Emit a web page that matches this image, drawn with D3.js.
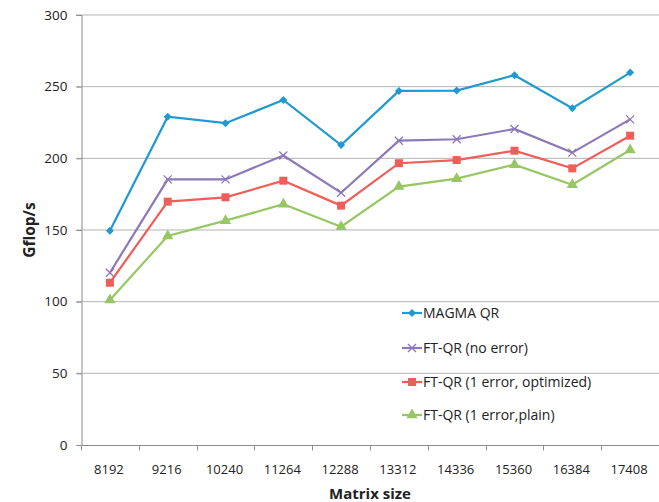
<!DOCTYPE html>
<html>
<head>
<meta charset="utf-8">
<script src="https://cdn.jsdelivr.net/npm/d3@7"></script>
<style>
  body { margin: 0; background: #fff; }
  svg text { font-family: "Open Sans", "Noto Sans", sans-serif; fill: #222; }
</style>
</head>
<body>
<div id="chart"></div>
<script>
// matrix sizes along the x axis
let sizes = ["8192", "9216", "10240", "11264", "12288", "13312", "14336", "15360", "16384", "17408"];
let yTicks = [0, 50, 100, 150, 200, 250, 300];

// Gflop/s per series
let magmaQR = [149.5, 229, 224.5, 240.7, 209.3, 247, 247.3, 258, 235, 259.8];
let ftNoError = [120.2, 185.3, 185.3, 202, 176, 212.3, 213.3, 220.5, 204, 227.2];
let ftOneErrorOpt = [113.2, 169.8, 172.8, 184.4, 167, 196.6, 198.8, 205.3, 193, 215.8];
let ftOneErrorPlain = [101.2, 145.8, 156.5, 168, 152.3, 180.3, 185.8, 195.6, 181.6, 205.8];

let seriesNames = ["MAGMA QR", "FT-QR (no error)", "FT-QR (1 error, optimized)", "FT-QR (1 error,plain)"];
let seriesColors = ["#1E9AD0", "#8C78B9", "#EF5E58", "#96C764"];
let seriesMarkers = ["diamond", "cross", "square", "triangle"];
let seriesValues = [magmaQR, ftNoError, ftOneErrorOpt, ftOneErrorPlain];

let width = 659, height = 502;
let margin = {top: 15, right: 0, bottom: 57, left: 81};

let svg = d3.select("#chart").append("svg")
    .attr("width", width)
    .attr("height", height);

let x = d3.scaleBand()
    .domain(sizes)
    .range([margin.left, width - margin.right])
    .padding(0);

let y = d3.scaleLinear()
    .domain([0, 300])
    .range([height - margin.bottom, margin.top]);

// gridlines
svg.append("g")
    .selectAll("line")
    .data(yTicks.filter(d => d > 0))
    .enter().append("line")
    .attr("x1", margin.left - 5)
    .attr("x2", width)
    .attr("y1", d => y(d))
    .attr("y2", d => y(d))
    .attr("stroke", "#b3b3b3")
    .attr("stroke-width", 1);

// y axis
let yAxis = svg.append("g")
    .attr("transform", "translate(" + (margin.left + 0.5) + ",0)")
    .call(d3.axisLeft(y).tickValues(yTicks).tickSize(5).tickPadding(9));
yAxis.select(".domain").attr("stroke", "#8c8c8c");
yAxis.selectAll(".tick line").attr("stroke", "#8c8c8c");
yAxis.selectAll("text").style("font-size", "13.5px").attr("fill", "#222");

// x axis, ticks at category boundaries
let xAxis = svg.append("g")
    .attr("transform", "translate(0," + (y(0) + 0.5) + ")");
xAxis.append("line")
    .attr("x1", margin.left)
    .attr("x2", width)
    .attr("stroke", "#8c8c8c");
xAxis.selectAll(".xtick")
    .data(sizes)
    .enter().append("line")
    .attr("class", "xtick")
    .attr("x1", d => Math.round(x(d)) + 0.5)
    .attr("x2", d => Math.round(x(d)) + 0.5)
    .attr("y1", 0)
    .attr("y2", 5)
    .attr("stroke", "#8c8c8c");
xAxis.selectAll(".xlabel")
    .data(sizes)
    .enter().append("text")
    .attr("class", "xlabel")
    .attr("x", d => x(d) + x.bandwidth() / 2 - 1)
    .attr("y", 28)
    .attr("text-anchor", "middle")
    .style("font-size", "13px")
    .text(d => d);

// axis titles
svg.append("text")
    .attr("transform", "translate(35," + y(150) + ") rotate(-90)")
    .attr("text-anchor", "middle")
    .style("font-size", "15.5px")
    .style("font-weight", "bold")
    .text("Gflop/s");

svg.append("text")
    .attr("x", 370)
    .attr("y", 499)
    .attr("text-anchor", "middle")
    .style("font-size", "15px")
    .style("font-weight", "bold")
    .text("Matrix size");

let drawMarker = function(g, kind, color) {
    if (kind === "cross") {
        g.append("path")
            .attr("d", "M-4,-4L4,4M-4,4L4,-4")
            .attr("stroke", color)
            .attr("stroke-width", 1.3)
            .attr("fill", "none");
    } else if (kind === "diamond") {
        g.append("path")
            .attr("d", "M0,-4L4,0L0,4L-4,0Z")
            .attr("fill", color);
    } else if (kind === "square") {
        g.append("path")
            .attr("d", d3.symbol().type(d3.symbolSquare).size(64)())
            .attr("fill", color);
    } else {
        g.append("path")
            .attr("d", d3.symbol().type(d3.symbolTriangle).size(55)())
            .attr("fill", color);
    }
};

let line = d3.line()
    .x((d, i) => x(sizes[i]) + x.bandwidth() / 2)
    .y(d => y(d));

seriesValues.forEach(function(vals, s) {
    let g = svg.append("g");
    g.append("path")
        .datum(vals)
        .attr("d", line)
        .attr("fill", "none")
        .attr("stroke", seriesColors[s])
        .attr("stroke-width", 2.2);
    vals.forEach(function(v, i) {
        let m = g.append("g")
            .attr("transform", "translate(" + (x(sizes[i]) + x.bandwidth() / 2) + "," + y(v) + ")");
        drawMarker(m, seriesMarkers[s], seriesColors[s]);
    });
});

// legend
let legendY = [313, 348, 382, 415];
seriesNames.forEach(function(name, s) {
    let g = svg.append("g").attr("transform", "translate(402," + legendY[s] + ")");
    g.append("line")
        .attr("x1", 0).attr("x2", 20)
        .attr("stroke", seriesColors[s])
        .attr("stroke-width", 2.2);
    let m = g.append("g").attr("transform", "translate(10,0)");
    drawMarker(m, seriesMarkers[s], seriesColors[s]);
    g.append("text")
        .attr("x", 21)
        .attr("y", 5)
        .style("font-size", "14px")
        .text(name);
});
</script>
</body>
</html>
